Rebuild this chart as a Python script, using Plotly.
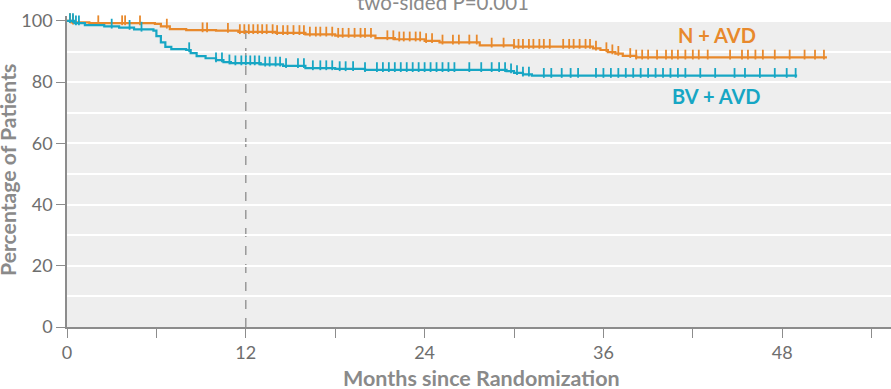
import plotly.graph_objects as go
import numpy as np

# ---- data ----
nav_t = [0, 0.3, 1.5, 5.9, 6.3, 6.9, 8.0, 10.0, 11.5, 14.0, 16.0, 18.0, 20.7, 22.0, 24.0, 25.0, 27.7, 30.0, 35.3, 35.8, 36.3, 36.8, 37.3, 38.2, 51.0]
nav_s = [100, 99.5, 99.3, 99.0, 98.2, 97.3, 97.0, 96.8, 96.4, 96.1, 95.6, 95.2, 94.4, 94.0, 93.5, 93.0, 92.0, 91.6, 91.0, 90.5, 89.8, 89.3, 88.6, 88.1, 88.1]
nav_cens = [0.2, 0.4, 2.1, 3.7, 3.9, 4.9, 6.7, 9.1, 9.4, 10.8, 11.6, 11.9, 12.2, 12.5, 12.8, 13.1, 13.4, 13.8, 14.1, 14.5, 14.8,
            15.2, 15.6, 15.9, 16.3, 16.7, 17.0, 17.4, 17.8, 18.2, 18.5, 18.9, 19.3, 19.7, 20.0, 20.4, 21.5, 21.9, 22.3,
            22.6, 23.0, 23.4, 23.7, 24.1, 24.5, 25.2, 25.9, 26.3, 27.0, 27.5, 28.5, 29.3, 30.0, 30.3, 30.6, 31.0, 31.3,
            31.7, 32.0, 32.4, 33.3, 33.7, 34.0, 34.4, 34.8, 35.1, 35.5, 36.2, 36.6, 37.0, 37.8, 38.2, 38.6, 39.0, 39.6,
            40.2, 40.6, 41.0, 41.5, 42.0, 42.4, 43.0, 44.5, 45.3, 45.7, 46.2, 46.7, 47.5, 48.5, 49.5, 50.2, 50.8]

bv_t = [0, 0.5, 1.2, 2.5, 3.5, 4.5, 5.8, 6.0, 6.3, 6.6, 7.0, 8.0, 8.3, 8.7, 9.3, 10.0, 10.5, 11.0, 13.0, 14.5, 16.0, 18.0, 20.0, 29.5, 30.0, 30.6, 31.2, 49.0]
bv_s = [100, 99.3, 98.6, 98.2, 97.8, 97.2, 96.8, 95.0, 93.0, 91.5, 90.8, 90.5, 89.5, 88.5, 87.8, 87.2, 86.5, 86.2, 85.8, 85.3, 84.6, 84.3, 84.0, 83.6, 83.0, 82.5, 82.1, 82.1]
bv_cens = [0.2, 0.4, 0.6, 0.8, 3.0, 4.2, 5.0, 8.2, 10.0, 10.4, 10.9, 11.3, 11.7, 12.0, 12.3, 12.6, 12.9, 13.3, 13.6, 14.0,
           14.3, 14.7, 15.5, 15.9, 16.5, 17.0, 17.4, 17.8, 18.3, 18.7, 19.2, 20.0, 20.8, 21.2, 21.6, 22.0, 22.4, 22.8,
           23.2, 23.6, 24.0, 24.4, 24.8, 25.2, 25.6, 26.0, 27.0, 27.8, 28.5, 29.0, 29.4, 29.8, 30.2, 30.6, 31.0, 32.0,
           32.5, 33.2, 33.8, 34.3, 35.5, 36.0, 36.5, 37.0, 37.5, 38.0, 38.5, 39.0, 39.5, 40.0, 40.5, 41.0, 41.5, 42.5,
           43.5, 44.8, 45.5, 46.5, 47.5, 48.3, 48.9]

x_ticks = [0, 12, 24, 36, 48]
y_ticks = [0, 20, 40, 60, 80, 100]

ORANGE = "#E8892C"
TEAL = "#17A6C4"
GRAY = "#6e6e6e"
TITLE_GRAY = "#8a8a8a"
FONT = "Lato"


def step_lookup(times, surv, q):
    idx = np.searchsorted(np.array(times), np.array(q), side="right") - 1
    return [surv[i] for i in idx]


fig = go.Figure()

for t, s, c, col, name in [(nav_t, nav_s, nav_cens, ORANGE, "N + AVD"),
                           (bv_t, bv_s, bv_cens, TEAL, "BV + AVD")]:
    fig.add_trace(go.Scatter(x=t, y=s, mode="lines", line=dict(color=col, width=2.2, shape="hv"),
                             name=name, showlegend=False, hoverinfo="skip"))
    cy = [v + 0.9 for v in step_lookup(t, s, c)]
    fig.add_trace(go.Scatter(x=c, y=cy, mode="markers",
                             marker=dict(symbol="line-ns", size=7, line=dict(color=col, width=1.8)),
                             showlegend=False, hoverinfo="skip", cliponaxis=False))

# grey panel
fig.add_shape(type="rect", xref="x", yref="y", x0=0, x1=55.3, y0=0, y1=100,
              fillcolor="#EEEEEE", line=dict(width=0), layer="below")
# 12-month dashed line
fig.add_shape(type="line", xref="x", yref="y", x0=12, x1=12, y0=0, y1=100,
              line=dict(color="#8c8c8c", width=1.3, dash="dash"), layer="below")

fig.add_annotation(text="N + AVD", x=43.6, y=95.3, xref="x", yref="y", showarrow=False,
                   font=dict(family=FONT, size=20, color=ORANGE, weight="bold"))
fig.add_annotation(text="BV + AVD", x=43.6, y=75.6, xref="x", yref="y", showarrow=False,
                   font=dict(family=FONT, size=20, color=TEAL, weight="bold"))

fig.add_annotation(text="two-sided P=0.001", x=(443 - 67) / 824, xref="paper", y=1, yref="paper",
                   xanchor="center", yanchor="bottom", yshift=0, showarrow=False,
                   font=dict(family=FONT, size=20.5, color=TITLE_GRAY))
fig.add_annotation(text="Months since Randomization", x=(481 - 67) / 824, xref="paper", y=0, yref="paper",
                   xanchor="center", yanchor="middle", yshift=-51, showarrow=False,
                   font=dict(family=FONT, size=21.5, color=TITLE_GRAY, weight="bold"))
fig.add_annotation(text="Percentage of Patients", x=0, xref="paper", xshift=-59, y=51.3, yref="y",
                   xanchor="center", yanchor="middle", textangle=-90, showarrow=False,
                   font=dict(family=FONT, size=21.2, color=TITLE_GRAY, weight="bold"))

fig.update_layout(
    width=891, height=389,
    margin=dict(l=67, r=0, t=16, b=62),
    paper_bgcolor="white", plot_bgcolor="white",
    font=dict(family=FONT, color=GRAY, size=18),
    xaxis=dict(range=[0, 55.3], tickvals=x_ticks, ticktext=[str(v) for v in x_ticks],
               showgrid=False, zeroline=False, showline=True, linecolor="#8c8c8c", linewidth=1.5,
               ticks="outside", ticklen=9, tickcolor="#8c8c8c", tickwidth=1.3,
               tickfont=dict(family=FONT, size=18, color=GRAY),
               minor=dict(tickvals=[6, 18, 30, 42, 54], ticks="outside", ticklen=9,
                          tickcolor="#8c8c8c", tickwidth=1.3, showgrid=False)),
    yaxis=dict(range=[0, 101.6], tickvals=y_ticks, showgrid=False, zeroline=False,
               showline=True, linecolor="#8c8c8c", linewidth=1.5,
               ticks="outside", ticklen=9, tickcolor="#8c8c8c", tickwidth=1.3,
               tickfont=dict(family=FONT, size=18, color=GRAY),
               minor=dict(tickvals=list(range(10, 100, 10)) + [100], showgrid=True,
                          gridcolor="white", gridwidth=1.5, ticks="")),
)

fig.write_html("out.html", config={"displayModeBar": False},
               post_script="document.body.style.margin='0';document.body.style.overflow='hidden';")
